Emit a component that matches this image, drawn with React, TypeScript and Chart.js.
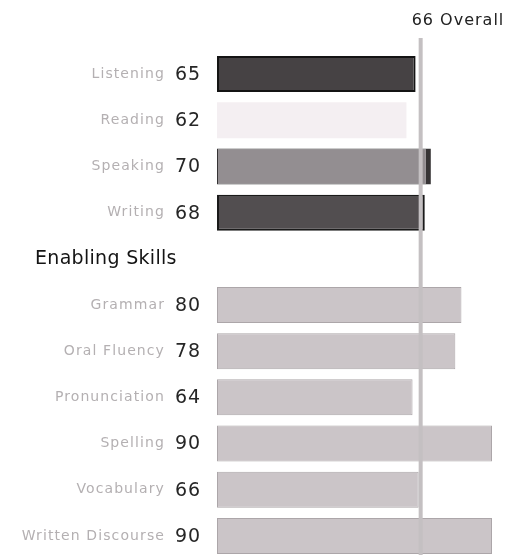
import React, { useEffect, useRef } from "react";
import { Chart, registerables } from "chart.js";

Chart.register(...registerables);

// ---- data ----
const communicativeSkills = ["Listening", "Reading", "Speaking", "Writing"];
const communicativeScores = [65, 62, 70, 68];
const enablingHeading = "Enabling Skills";
const enablingSkills = ["Grammar", "Oral Fluency", "Pronunciation", "Spelling", "Vocabulary", "Written Discourse"];
const enablingScores = [80, 78, 64, 90, 66, 90];
const overallScore = 66;
const overallLabel = "Overall";
const scaleMin = 0;
const scaleMax = 90;

// ---- styles ----
const communicativeFills = ["#464244", "#f4eff2", "#938e91", "#524e50"];
const communicativeBorders = ["#141414", "#efe9ed", "#363435", "#1a1a1a"];
const communicativeBorderWidths: any[] = [2, 0, { top: 1, left: 1, bottom: 1, right: 5 }, 2];
const enablingFill = "#cbc5c8";
const enablingBorder = "#aca6a9";

const CANVAS_W = 507;
const CANVAS_H = 563;

export default function App() {
  const canvasRef = useRef<HTMLCanvasElement | null>(null);

  useEffect(() => {
    if (!canvasRef.current) return;

    const labels = [...communicativeSkills, enablingHeading, ...enablingSkills];
    const values: (number | null)[] = [...communicativeScores, null, ...enablingScores];
    const fills = [...communicativeFills, "rgba(0,0,0,0)", ...enablingSkills.map(() => enablingFill)];
    const borders = [...communicativeBorders, "rgba(0,0,0,0)", ...enablingSkills.map(() => enablingBorder)];
    const widths = [...communicativeBorderWidths, 0, ...enablingSkills.map(() => 1)];

    const labelPlugin = {
      id: "scoreLabels",
      afterDraw(chart: any) {
        const ctx = chart.ctx as CanvasRenderingContext2D;
        const yScale = chart.scales.y;
        const xScale = chart.scales.x;
        const left = chart.chartArea.left;
        ctx.save();
        ctx.textBaseline = "middle";
        labels.forEach((lab, i) => {
          const y = yScale.getPixelForValue(i);
          const v = values[i];
          if (v === null) {
            ctx.font = "19px 'DejaVu Sans'";
            (ctx as any).letterSpacing = "0.3px";
            ctx.fillStyle = "#141414";
            ctx.textAlign = "left";
            ctx.fillText(lab, 35, y);
          } else {
            ctx.font = "14px 'DejaVu Sans'";
            (ctx as any).letterSpacing = "1.1px";
            ctx.fillStyle = "#b4b0b2";
            ctx.textAlign = "right";
            ctx.fillText(lab, left - 52, y);
            ctx.font = "19px 'DejaVu Sans'";
            (ctx as any).letterSpacing = "1px";
            ctx.fillStyle = "#262626";
            ctx.textAlign = "left";
            ctx.fillText(String(v), left - 42, y + 1);
          }
        });
        // overall line
        const lx = xScale.getPixelForValue(overallScore) + 2;
        ctx.strokeStyle = "#c4c0c2";
        ctx.lineWidth = 4;
        ctx.beginPath();
        ctx.moveTo(lx, 38);
        ctx.lineTo(lx, chart.height);
        ctx.stroke();
        ctx.font = "16px 'DejaVu Sans'";
        (ctx as any).letterSpacing = "1px";
        ctx.fillStyle = "#222222";
        ctx.textAlign = "left";
        ctx.textBaseline = "alphabetic";
        ctx.fillText(`${overallScore} ${overallLabel}`, lx - 9, 25);
        (ctx as any).letterSpacing = "0px";
        ctx.restore();
      },
    };

    const chart = new Chart(canvasRef.current, {
      type: "bar",
      data: {
        labels,
        datasets: [
          {
            data: values as any,
            backgroundColor: fills,
            borderColor: borders,
            borderWidth: widths as any,
            borderSkipped: false,
            categoryPercentage: 0.78,
            barPercentage: 1,
          },
        ],
      },
      options: {
        indexAxis: "y",
        animation: false,
        responsive: false,
        maintainAspectRatio: false,
        devicePixelRatio: 1,
        layout: { padding: { left: 217, right: 15, top: 51, bottom: 4 } },
        plugins: { legend: { display: false }, tooltip: { enabled: false } },
        scales: {
          x: { display: false, min: scaleMin, max: scaleMax, grid: { display: false } },
          y: { display: false, grid: { display: false } },
        },
      },
      plugins: [labelPlugin],
    });
    return () => chart.destroy();
  }, []);

  return (
    <div
      style={{
        position: "fixed",
        left: 0,
        top: 0,
        width: 507,
        height: 555,
        overflow: "hidden",
        background: "#ffffff",
      }}
    >
      <canvas ref={canvasRef} width={CANVAS_W} height={CANVAS_H} style={{ display: "block" }} />
    </div>
  );
}
